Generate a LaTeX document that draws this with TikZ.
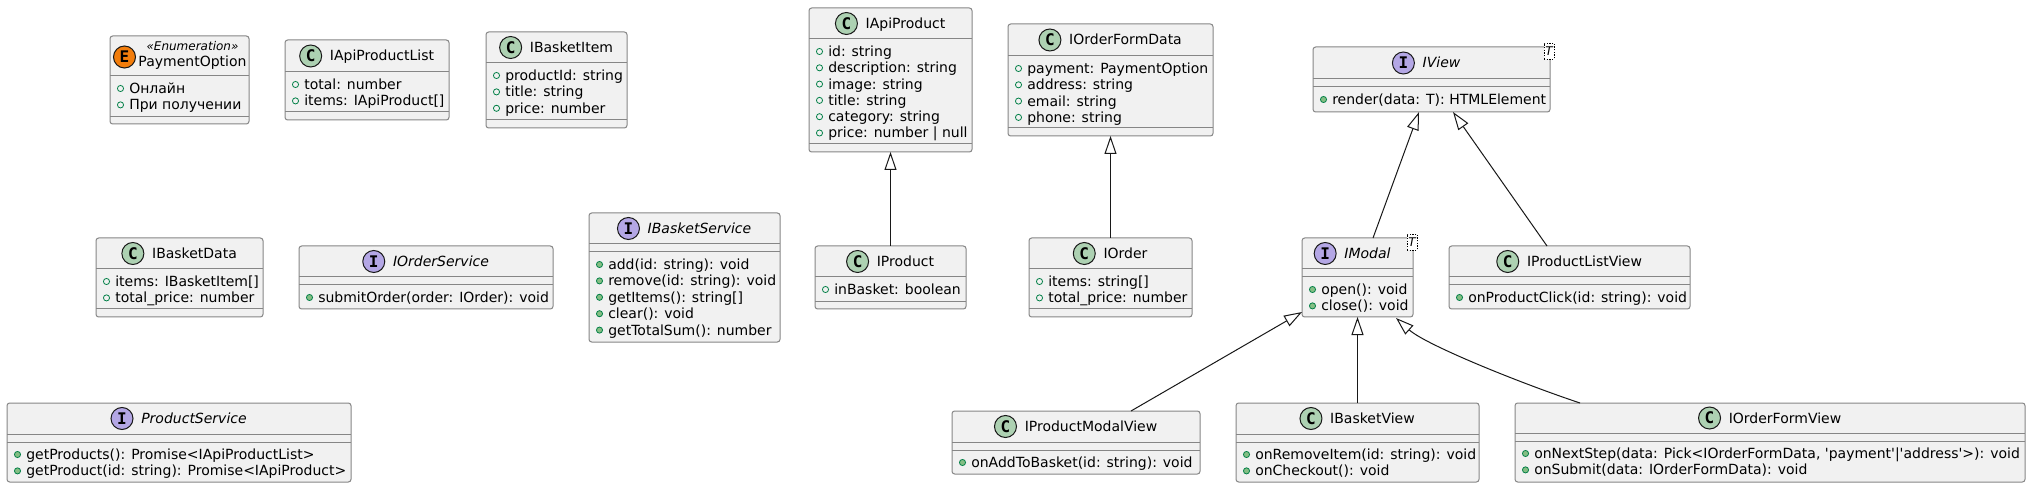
\documentclass[tikz,border=0pt]{standalone}
\usepackage{fontspec}
\setmainfont{DejaVu Sans}
\newfontfamily\spotfont{DejaVu Sans Mono}
\usetikzlibrary{arrows.meta,calc,fit}

\definecolor{bfill}{HTML}{F1F1F1}
\definecolor{bline}{HTML}{868686}
\definecolor{lcol}{HTML}{181818}
\definecolor{cspot}{HTML}{ADD1B2}
\definecolor{ispot}{HTML}{B4A7E5}
\definecolor{espot}{HTML}{F27D0C}
\definecolor{visg}{HTML}{038048}
\definecolor{visf}{HTML}{84BE84}

\tikzset{
  ubox/.style={draw=bline, fill=bfill, line width=0.75pt, rounded corners=2pt, inner sep=0pt, outer sep=0pt},
  usep/.style={draw=bline, line width=0.75pt},
  utitle/.style={inner sep=0pt, font=\fontsize{10.5}{12}\selectfont},
  uital/.style={inner sep=0pt, font=\fontsize{10.5}{12}\selectfont\itshape},
  ustereo/.style={inner sep=0pt, font=\fontsize{9}{10}\selectfont\itshape},
  umem/.style={inner sep=0pt, font=\fontsize{10.5}{12}\selectfont},
  spot/.style={circle, draw=lcol, line width=0.75pt, minimum size=16.5pt, inner sep=0pt, font=\spotfont\bfseries\fontsize{12}{12}\selectfont},
  spotc/.style={spot, fill=cspot},
  spoti/.style={spot, fill=ispot},
  spote/.style={spot, fill=espot},
  fld/.style={draw=visg, line width=0.6pt},
  mth/.style={draw=visg, fill=visf, line width=0.6pt},
  tbox/.style={draw=black, line width=0.5pt, dash pattern=on 1pt off 1pt, fill=white, minimum width=7.5pt, minimum height=12pt, inner sep=0pt, font=\fontsize{9}{9}\selectfont\itshape},
  inh/.style={draw=lcol, line width=0.75pt, -{Triangle[length=13.5pt,width=9pt,fill=white,line width=0.75pt]}},
}

% #1 name, #2 L, #3 T, #4 R, #5 B, #6 s1, #7 s2
\newcommand\umlbox[7]{%
  \node[ubox, fit={(#2,#3) (#4,#5)}] (#1) {};
  \draw[usep] (#2,#6) -- (#4,#6);
  \draw[usep] (#2,#7) -- (#4,#7);
}
% #1 box name, #2 group centre x, #3 header centre y, #4 title style, #5 title, #6 spot style, #7 letter
\newcommand\umlhead[7]{%
  \node[#4, anchor=base] (#1-t) at (#2+15,#3+5) {#5};
  \node[#6] (#1-s) at ($(#1-t.base west)+(-19,-5)$) {#7};
}
% #1 node name, #2 L, #3 y centre, #4 fld/mth, #5 text
\newcommand\umlmem[5]{%
  \node[umem, anchor=base west] (#1) at (#2+19,#3+5) {#5};
  \draw[#4] (#2+10.5,#3) circle[radius=2.3pt];
}

\begin{document}
\begin{tikzpicture}[x=0.75pt, y=-0.75pt]
\useasboundingbox (0,0) rectangle (2031,488);
\fill[white] (0,0) rectangle (2031,488);

% PaymentOption
\umlbox{po}{110}{36}{249}{124}{76}{117}
\node[spote] (po-s) at (124.5,57) {E};
\node[ustereo, anchor=base] (po-st) at (192.5,51) {«Enumeration»};
\node[utitle, anchor=base] (po-t) at (192.5,67) {PaymentOption};
\umlmem{po-m1}{110}{88.5}{fld}{Онлайн}
\umlmem{po-m2}{110}{104.9}{fld}{При получении}

% IApiProductList
\umlbox{ipl}{285}{40}{449}{120}{72}{112}
\umlhead{ipl}{367}{56}{utitle}{IApiProductList}{spotc}{C}
\umlmem{ipl-m1}{285}{84.5}{fld}{total: number}
\umlmem{ipl-m2}{285}{100.9}{fld}{items: IApiProduct[]}

% IBasketItem
\umlbox{ibi}{486}{32}{627}{128}{63}{120}
\umlhead{ibi}{556.5}{47.5}{utitle}{IBasketItem}{spotc}{C}
\umlmem{ibi-m1}{486}{75.5}{fld}{productId: string}
\umlmem{ibi-m2}{486}{91.9}{fld}{title: string}
\umlmem{ibi-m3}{486}{108.3}{fld}{price: number}

% IApiProduct
\umlbox{iap}{809}{8}{972}{152}{39}{144}
\umlhead{iap}{890.5}{23.5}{utitle}{IApiProduct}{spotc}{C}
\umlmem{iap-m1}{809}{51.5}{fld}{id: string}
\umlmem{iap-m2}{809}{67.8}{fld}{description: string}
\umlmem{iap-m3}{809}{84.1}{fld}{image: string}
\umlmem{iap-m4}{809}{100.4}{fld}{title: string}
\umlmem{iap-m5}{809}{116.7}{fld}{category: string}
\umlmem{iap-m6}{809}{133.0}{fld}{price: number | null}

% IOrderFormData
\umlbox{iofd}{1008}{24}{1213}{136}{56}{128}
\umlhead{iofd}{1110.5}{40}{utitle}{IOrderFormData}{spotc}{C}
\umlmem{iofd-m1}{1008}{68.5}{fld}{payment: PaymentOption}
\umlmem{iofd-m2}{1008}{84.8}{fld}{address: string}
\umlmem{iofd-m3}{1008}{101.1}{fld}{email: string}
\umlmem{iofd-m4}{1008}{117.4}{fld}{phone: string}

% IProduct
\umlbox{ip}{815}{246}{966}{309}{277}{302}
\umlhead{ip}{890.5}{261.5}{utitle}{IProduct}{spotc}{C}
\umlmem{ip-m1}{815}{289.5}{fld}{inBasket: boolean}

% IOrder
\umlbox{io}{1029}{238}{1192}{317}{269}{309}
\umlhead{io}{1110.5}{253.5}{utitle}{IOrder}{spotc}{C}
\umlmem{io-m1}{1029}{281.5}{fld}{items: string[]}
\umlmem{io-m2}{1029}{297.9}{fld}{total\_price: number}

% IView
\umlbox{iv}{1313}{47}{1550}{112}{79}{87}
\umlhead{iv}{1426.5}{63}{uital}{IView}{spoti}{I}
\umlmem{iv-m1}{1313}{99.5}{mth}{render(data: T): HTMLElement}
\node[tbox] (iv-tp) at (1549,51) {T};

% IModal
\umlbox{im}{1302}{238}{1413}{317}{269}{277}
\umlhead{im}{1352.5}{253.5}{uital}{IModal}{spoti}{I}
\umlmem{im-m1}{1302}{289.5}{mth}{open(): void}
\umlmem{im-m2}{1302}{305.9}{mth}{close(): void}
\node[tbox] (im-tp) at (1412,242) {T};

% IProductListView
\umlbox{iplv}{1449}{246}{1690}{309}{277}{285}
\umlhead{iplv}{1569.5}{261.5}{utitle}{IProductListView}{spotc}{C}
\umlmem{iplv-m1}{1449}{297.5}{mth}{onProductClick(id: string): void}

% IBasketData
\umlbox{ibd}{96}{238}{263}{317}{269}{309}
\umlhead{ibd}{179.5}{253.5}{utitle}{IBasketData}{spotc}{C}
\umlmem{ibd-m1}{96}{281.5}{fld}{items: IBasketItem[]}
\umlmem{ibd-m2}{96}{297.9}{fld}{total\_price: number}

% IOrderService
\umlbox{ios}{299}{246}{553}{309}{277}{285}
\umlhead{ios}{426}{261.5}{uital}{IOrderService}{spoti}{I}
\umlmem{ios-m1}{299}{297.5}{mth}{submitOrder(order: IOrder): void}

% IBasketService
\umlbox{ibs}{589}{213}{780}{342}{244}{252}
\umlhead{ibs}{684.5}{228.5}{uital}{IBasketService}{spoti}{I}
\umlmem{ibs-m1}{589}{264.5}{mth}{add(id: string): void}
\umlmem{ibs-m2}{589}{280.9}{mth}{remove(id: string): void}
\umlmem{ibs-m3}{589}{297.3}{mth}{getItems(): string[]}
\umlmem{ibs-m4}{589}{313.7}{mth}{clear(): void}
\umlmem{ibs-m5}{589}{330.1}{mth}{getTotalSum(): number}

% ProductService
\umlbox{ps}{7}{403}{351}{482}{434}{442}
\umlhead{ps}{179}{418.5}{uital}{ProductService}{spoti}{I}
\umlmem{ps-m1}{7}{454.5}{mth}{getProducts(): Promise<IApiProductList>}
\umlmem{ps-m2}{7}{470.9}{mth}{getProduct(id: string): Promise<IApiProduct>}

% IProductModalView
\umlbox{ipmv}{952}{411}{1200}{474}{442}{450}
\umlhead{ipmv}{1076}{426.5}{utitle}{IProductModalView}{spotc}{C}
\umlmem{ipmv-m1}{952}{462.5}{mth}{onAddToBasket(id: string): void}

% IBasketView
\umlbox{ibv}{1236}{403}{1479}{482}{434}{442}
\umlhead{ibv}{1357.5}{418.5}{utitle}{IBasketView}{spotc}{C}
\umlmem{ibv-m1}{1236}{454.5}{mth}{onRemoveItem(id: string): void}
\umlmem{ibv-m2}{1236}{470.9}{mth}{onCheckout(): void}

% IOrderFormView
\umlbox{iofv}{1515}{403}{2025}{482}{433}{441}
\umlhead{iofv}{1770}{418}{utitle}{IOrderFormView}{spotc}{C}
\umlmem{iofv-m1}{1515}{453.5}{mth}{onNextStep(data: Pick<IOrderFormData, \textquotesingle payment\textquotesingle|\textquotesingle address\textquotesingle>): void}
\umlmem{iofv-m2}{1515}{469.9}{mth}{onSubmit(data: IOrderFormData): void}

% connectors
\draw[inh] (ip.north) -- (iap.south);
\draw[inh] (io.north) -- (iofd.south);
\draw[inh] ($(im.north west)+(71,0)$) -- ($(iv.south west)+(106,0)$);
\draw[inh] ($(iplv.north west)+(98,0)$) -- ($(iv.south west)+(140,0)$);
\draw[inh] ($(ipmv.north west)+(179,0)$) -- ($(im.south west)+(0,-5)$);
\draw[inh] (ibv.north) -- (im.south);
\draw[inh] ($(iofv.north west)+(65,0)$) .. controls ($(iofv.north west)+(5,-20)$) and ($(im.south west)+(124,28)$) .. ($(im.south west)+(94,1)$);
\end{tikzpicture}
\end{document}
